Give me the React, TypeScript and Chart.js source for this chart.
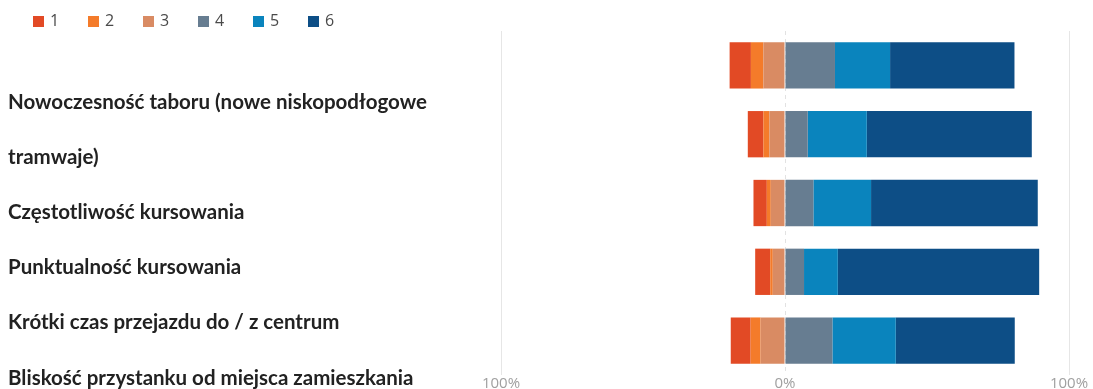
import React, { useEffect, useRef } from "react";
import { Chart, registerables } from "chart.js";

Chart.register(...registerables);

// Categories (top to bottom); the first one wraps onto two lines
const categories: string[][] = [
  ["Nowoczesność taboru (nowe niskopodłogowe", "tramwaje)"],
  ["Częstotliwość kursowania"],
  ["Punktualność kursowania"],
  ["Krótki czas przejazdu do / z centrum"],
  ["Bliskość przystanku od miejsca zamieszkania"],
];

// Rating labels (legend)
const ratings = ["1", "2", "3", "4", "5", "6"];

// Share of answers (%) per rating, per category
const rating1 = [7.5, 5.5, 4.7, 5.3, 7.0];
const rating2 = [4.4, 2.1, 1.4, 0.9, 3.5];
const rating3 = [7.6, 5.5, 5.0, 4.3, 8.6];
const rating4 = [17.6, 8.0, 10.0, 6.7, 16.7];
const rating5 = [19.4, 20.8, 20.3, 11.9, 22.3];
const rating6 = [43.8, 58.1, 58.7, 70.9, 41.9];

// Axis ticks
const tickValues = [-100, 0, 100];
const tickLabels = ["100%", "0%", "100%"];

const colors = ["#E24A25", "#F47B2A", "#D98B63", "#677D91", "#0A84BD", "#0D4E86"];

export default function App() {
  const canvasRef = useRef<HTMLCanvasElement | null>(null);

  useEffect(() => {
    const canvas = canvasRef.current;
    if (!canvas) return;

    const series = [rating1, rating2, rating3, rating4, rating5, rating6];
    // negative side: 3 closest to zero, then 2, then 1
    const stackOrder = [2, 1, 0, 3, 4, 5];

    const datasets = series.map((vals, i) => ({
      label: ratings[i],
      data: vals.map((v) => (i < 3 ? -v : v)),
      backgroundColor: colors[i],
      borderWidth: 0,
      order: stackOrder[i],
      barPercentage: 0.673,
      categoryPercentage: 1,
    }));

    const leftLabels = {
      id: "leftLabels",
      afterDraw(chart: any) {
        const ctx = chart.ctx;
        ctx.save();
        ctx.font = "bold 20.5px Lato";
        ctx.fillStyle = "#222222";
        ctx.textAlign = "left";
        ctx.textBaseline = "middle";
        let line = 0;
        categories.forEach((lines) => {
          lines.forEach((t) => {
            ctx.fillText(t, 8, 102 + line * 55.2);
            line++;
          });
        });
        ctx.restore();
      },
    };

    const topLegend = {
      id: "topLegend",
      afterDraw(chart: any) {
        const ctx = chart.ctx;
        ctx.save();
        ctx.font = "16px 'Open Sans'";
        ctx.textBaseline = "middle";
        ctx.textAlign = "left";
        chart.data.datasets.forEach((ds: any, i: number) => {
          const x = 33 + i * 55;
          ctx.fillStyle = ds.backgroundColor;
          ctx.fillRect(x, 16, 11, 11);
          ctx.fillStyle = "#4a4a4a";
          ctx.fillText(ds.label, x + 17, 21.5);
        });
        ctx.restore();
      },
    };

    const chart = new Chart(canvas, {
      type: "bar",
      data: {
        labels: categories,
        datasets: datasets as any,
      },
      options: {
        indexAxis: "y",
        animation: false,
        responsive: true,
        maintainAspectRatio: false,
        layout: { padding: { left: 501, right: 24, top: 31, bottom: 0 } },
        plugins: {
          legend: { display: false },
          tooltip: { enabled: false },
        },
        scales: {
          x: {
            type: "linear",
            stacked: true,
            min: -100,
            max: 100,
            afterBuildTicks(scale: any) {
              scale.ticks = tickValues.map((v) => ({ value: v }));
            },
            afterFit(scale: any) {
              scale.height = 14;
            },
            ticks: {
              padding: 0,
              color: "#a0a0a0",
              font: { family: "'Open Sans'", size: 15 },
              maxRotation: 0,
              callback(value: any) {
                const idx = tickValues.indexOf(Number(value));
                return idx >= 0 ? tickLabels[idx] : "";
              },
            },
            grid: {
              drawTicks: false,
              color: (c: any) => (c.tick && c.tick.value === 0 ? "#e2e2e2" : "#e6e6e6"),
              lineWidth: 1,
            },
            border: {
              display: false,
              dash: (c: any) => (c.tick && c.tick.value === 0 ? [4, 4] : []),
            },
          },
          y: {
            type: "category",
            stacked: true,
            display: false,
            grid: { display: false },
          },
        },
      },
      plugins: [leftLabels, topLegend],
    });

    return () => chart.destroy();
  }, []);

  return (
    <div style={{ position: "absolute", left: 0, top: 0, width: 1093, height: 389 }}>
      <canvas ref={canvasRef} />
    </div>
  );
}
